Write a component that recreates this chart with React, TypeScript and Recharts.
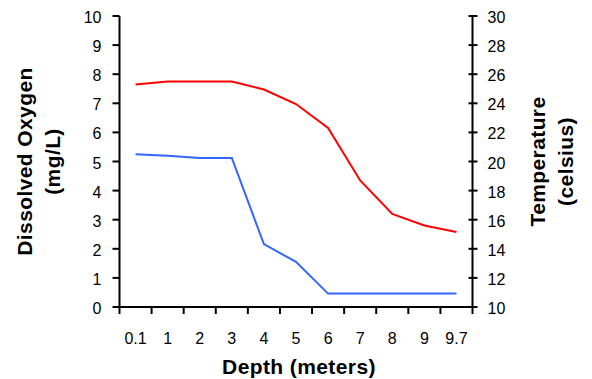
import { Line, LineChart, XAxis, YAxis } from "recharts";

const depths = ["0.1", "1", "2", "3", "4", "5", "6", "7", "8", "9", "9.7"];
const oxygen = [5.25, 5.2, 5.12, 5.12, 2.16, 1.55, 0.46, 0.46, 0.46, 0.46, 0.46];
const temperature = [25.3, 25.5, 25.5, 25.5, 24.95, 23.95, 22.3, 18.7, 16.4, 15.6, 15.15];
const oxygenTicks = [0, 1, 2, 3, 4, 5, 6, 7, 8, 9, 10];
const tempTicks = [10, 12, 14, 16, 18, 20, 22, 24, 26, 28, 30];

const data = depths.map((depth, i) => ({
  pos: i + 0.5,
  depth,
  oxygen: oxygen[i],
  temperature: temperature[i],
}));

// integer values are category boundaries (tick marks), halves carry the labels
const xTicks: number[] = [];
for (let i = 0; i <= depths.length; i++) {
  xTicks.push(i);
  if (i < depths.length) xTicks.push(i + 0.5);
}

const FONT = "Arial, 'Liberation Sans', sans-serif";
const INK = "#000";

/* eslint-disable @typescript-eslint/no-explicit-any */
function DepthTick({ x, y, payload }: any) {
  const v = payload.value;
  if (Number.isInteger(v)) {
    return <line x1={x} x2={x} y1={y} y2={y + 7} stroke={INK} strokeWidth={2} />;
  }
  return (
    <text x={x} y={y + 37} textAnchor="middle" fontSize={16} fill={INK} fontFamily={FONT}>
      {depths[Math.floor(v)]}
    </text>
  );
}

function OxygenTick({ x, y, payload }: any) {
  return (
    <text x={x} y={y + 7} textAnchor="end" fontSize={16} fill={INK} fontFamily={FONT}>
      {payload.value}
    </text>
  );
}

function TempTick({ x, y, payload }: any) {
  return (
    <g>
      <line x1={x - 19} x2={x - 10} y1={y} y2={y} stroke={INK} strokeWidth={2} />
      <text x={x} y={y + 7} fontSize={16} fill={INK} fontFamily={FONT}>
        {payload.value}
      </text>
    </g>
  );
}

function SideTitle({ viewBox, lines, offsets }: any) {
  const { x, y, height } = viewBox;
  const cy = y + height / 2;
  return (
    <g>
      {lines.map((t: string, i: number) => (
        <text
          key={t}
          x={x + offsets[i]}
          y={cy}
          transform={`rotate(-90 ${x + offsets[i]} ${cy})`}
          textAnchor="middle"
          fontWeight="bold"
          fontSize={21}
          letterSpacing={0.4}
          fill={INK}
          fontFamily={FONT}
        >
          {t}
        </text>
      ))}
    </g>
  );
}

function BottomTitle({ viewBox }: any) {
  const { x, y, width } = viewBox;
  return (
    <text
      x={x + width / 2 + 3}
      y={y + 67}
      textAnchor="middle"
      fontWeight="bold"
      fontSize={21}
      letterSpacing={0.4}
      fill={INK}
      fontFamily={FONT}
    >
      Depth (meters)
    </text>
  );
}
/* eslint-enable @typescript-eslint/no-explicit-any */

export default function App() {
  return (
    <div style={{ position: "absolute", left: 0, top: 0, background: "#fff" }}>
      <LineChart
        width={592}
        height={379}
        data={data}
        margin={{ top: 16, right: 0, bottom: 0, left: 0 }}
        style={{ fontFamily: FONT }}
      >
        <XAxis
          dataKey="pos"
          type="number"
          domain={[0, depths.length]}
          ticks={xTicks}
          interval={0}
          tickSize={0}
          tickMargin={0}
          tickLine={false}
          tick={<DepthTick />}
          height={72}
          axisLine={{ stroke: INK, strokeWidth: 2 }}
          label={<BottomTitle />}
        />
        <XAxis
          xAxisId="top"
          orientation="top"
          dataKey="pos"
          type="number"
          domain={[0, depths.length]}
          height={0}
          tick={false}
          tickLine={false}
          axisLine={{ stroke: "#808080", strokeWidth: 2 }}
        />
        <YAxis
          yAxisId="do"
          domain={[0, 10]}
          ticks={oxygenTicks}
          interval={0}
          width={119.5}
          tickSize={7}
          tickMargin={11}
          stroke={INK}
          axisLine={{ stroke: INK, strokeWidth: 2 }}
          tickLine={{ stroke: INK, strokeWidth: 2 }}
          tick={<OxygenTick />}
          label={<SideTitle lines={["Dissolved Oxygen", "(mg/L)"]} offsets={[31.5, 60]} />}
        />
        <YAxis
          yAxisId="temp"
          orientation="right"
          domain={[10, 30]}
          ticks={tempTicks}
          interval={0}
          width={119.5}
          tickSize={5}
          tickMargin={10}
          tickLine={false}
          axisLine={{ stroke: INK, strokeWidth: 2 }}
          tick={<TempTick />}
          label={<SideTitle lines={["Temperature", "(celsius)"]} offsets={[72.5, 100.5]} />}
        />
        <Line
          yAxisId="temp"
          type="linear"
          dataKey="temperature"
          stroke="#ff0000"
          strokeWidth={2}
          dot={false}
          isAnimationActive={false}
        />
        <Line
          yAxisId="do"
          type="linear"
          dataKey="oxygen"
          stroke="#3366ff"
          strokeWidth={2}
          dot={false}
          isAnimationActive={false}
        />
      </LineChart>
    </div>
  );
}
